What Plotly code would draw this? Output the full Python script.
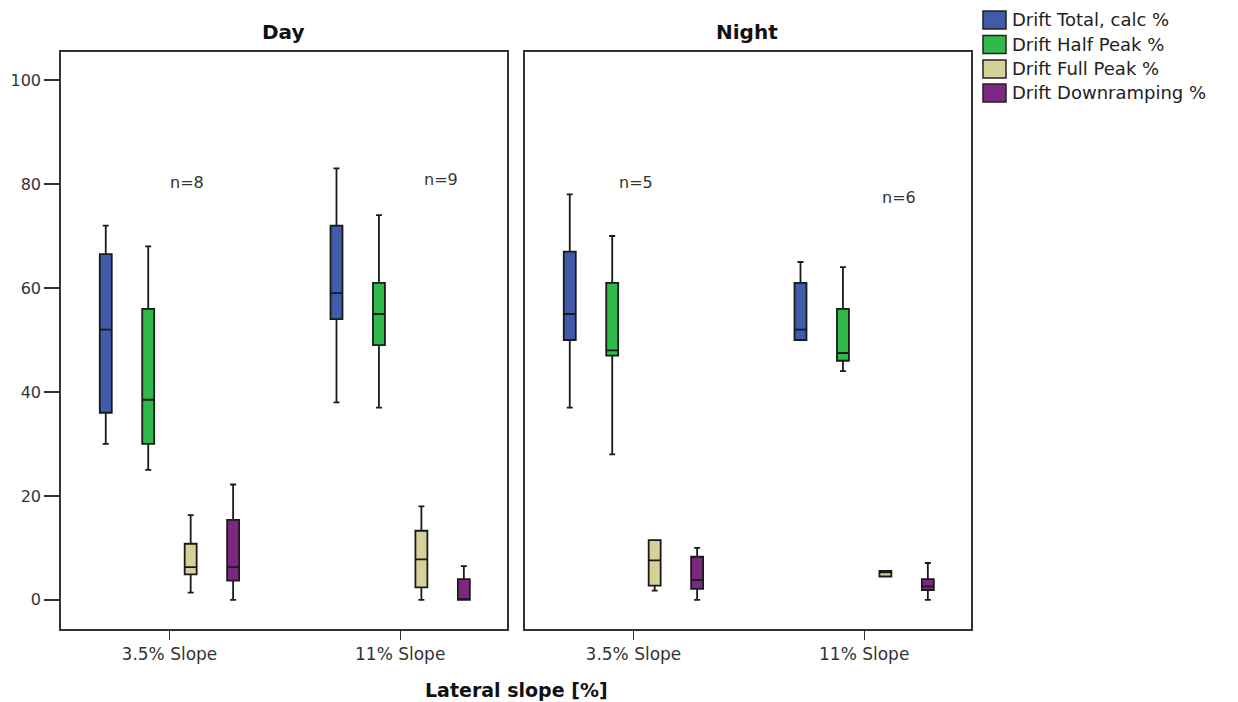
import plotly.graph_objects as go

W, H = 1238, 702

categories = ["3.5% Slope", "11% Slope"]
series = ["Drift Total, calc %", "Drift Half Peak %", "Drift Full Peak %", "Drift Downramping %"]
colors = ["#3F5BAA", "#30B94B", "#D5D199", "#7D2880"]

# Day panel: per series, values for [3.5% Slope, 11% Slope]
day_low = [[30, 38], [25, 37], [1.4, 0], [0, 0]]
day_q1 = [[36, 54], [30, 49], [4.9, 2.4], [3.7, 0]]
day_med = [[52, 59], [38.5, 55], [6.3, 7.8], [6.3, 0]]
day_q3 = [[66.5, 72], [56, 61], [10.8, 13.3], [15.4, 4.0]]
day_high = [[72, 83], [68, 74], [16.3, 18], [22.2, 6.5]]

# Night panel
night_low = [[37, 50], [28, 44], [1.8, 4.5], [0, 0]]
night_q1 = [[50, 50], [47, 46], [2.75, 4.5], [2.1, 1.9]]
night_med = [[55, 52], [48, 47.5], [7.6, 5.3], [3.8, 2.6]]
night_q3 = [[67, 61], [61, 56], [11.5, 5.6], [8.3, 4.0]]
night_high = [[78, 65], [70, 64], [11.5, 5.6], [10, 7.1]]

n_labels = ["n=8", "n=9", "n=5", "n=6"]
y_ticks = [0, 20, 40, 60, 80, 100]

fig = go.Figure()

panels = [
    ("x", "y", day_low, day_q1, day_med, day_q3, day_high),
    ("x2", "y2", night_low, night_q1, night_med, night_q3, night_high),
]
for xa, ya, lo, q1, md, q3, hi in panels:
    for i, name in enumerate(series):
        fig.add_trace(go.Box(
            x=categories,
            lowerfence=lo[i], q1=q1[i], median=md[i], q3=q3[i], upperfence=hi[i],
            name=name, offsetgroup=name,
            fillcolor=colors[i],
            line=dict(color="#1a1a1a", width=1.8),
            whiskerwidth=0.5,
            boxpoints=False,
            showlegend=False,
            hoverinfo="skip",
            xaxis=xa, yaxis=ya,
        ))

px = lambda v: v / W
py = lambda v: 1 - v / H

tick_font = dict(family="DejaVu Sans", size=16, color="#333333")
xtick_font = dict(family="DejaVu Sans", size=17, color="#333333")
axis_common = dict(showline=True, linecolor="#333333", linewidth=1.6, mirror=True,
                   showgrid=False, zeroline=False)
xr = [-0.47, 1.463]
yr = [-5.6, 105.4]

fig.update_layout(
    width=W, height=H,
    margin=dict(l=0, r=0, t=0, b=0),
    paper_bgcolor="white", plot_bgcolor="white",
    boxmode="group", boxgap=0.264, boxgroupgap=0.718,
    xaxis=dict(domain=[px(61), px(507)], range=xr, anchor="y", ticks="outside",
               ticklen=9, tickwidth=1.4, tickcolor="#333333", tickfont=xtick_font,
               automargin=False, **axis_common),
    yaxis=dict(domain=[py(629), py(52)], range=yr, anchor="x", ticks="outside",
               tickvals=y_ticks, ticklen=15, tickwidth=1.6, tickcolor="#333333",
               tickfont=tick_font, automargin=False, **axis_common),
    xaxis2=dict(domain=[px(525), px(971)], range=xr, anchor="y2", ticks="outside",
                ticklen=9, tickwidth=1.4, tickcolor="#333333", tickfont=xtick_font,
                automargin=False, **axis_common),
    yaxis2=dict(domain=[py(629), py(52)], range=yr, anchor="x2", showticklabels=False,
                ticks="", automargin=False, **axis_common),
)

annotations = []
title_font = dict(family="DejaVu Sans", size=20, color="#111")
annotations.append(dict(text="<b>Day</b>", x=px(283), y=py(32), xref="paper", yref="paper",
                        xanchor="center", yanchor="middle", showarrow=False, font=title_font))
annotations.append(dict(text="<b>Night</b>", x=px(747), y=py(32), xref="paper", yref="paper",
                        xanchor="center", yanchor="middle", showarrow=False, font=title_font))
# n labels (positions in axis units)
n_pos = [("x", "y", 0.074, 80.2), ("x", "y", 1.177, 80.8), ("x2", "y2", 0.009, 80.2), ("x2", "y2", 1.15, 77.5)]
for lab, (xr_, yr_, xv, yv) in zip(n_labels, n_pos):
    annotations.append(dict(text=lab, x=xv, y=yv, xref=xr_, yref=yr_, showarrow=False,
                            xanchor="center", yanchor="middle",
                            font=dict(family="DejaVu Sans", size=16, color="#333333")))
# x-axis title
annotations.append(dict(text="<b>Lateral slope [%]</b>", x=px(516), y=py(690), xref="paper", yref="paper",
                        xanchor="center", yanchor="middle", showarrow=False,
                        font=dict(family="DejaVu Sans", size=19, color="#111")))

# legend
shapes = []
row_y = [20, 44.5, 69, 93]
for i, name in enumerate(series):
    cy = row_y[i]
    shapes.append(dict(type="rect", xref="paper", yref="paper",
                       x0=px(983), x1=px(1006), y0=py(cy - 9), y1=py(cy + 9),
                       fillcolor=colors[i], line=dict(color="#222222", width=1.5)))
    annotations.append(dict(text=name, x=px(1010), y=py(cy), xref="paper", yref="paper",
                            xanchor="left", yanchor="middle", showarrow=False,
                            font=dict(family="DejaVu Sans", size=18, color="#222222")))

fig.update_layout(annotations=annotations, shapes=shapes)
fig.write_html("out.html")
